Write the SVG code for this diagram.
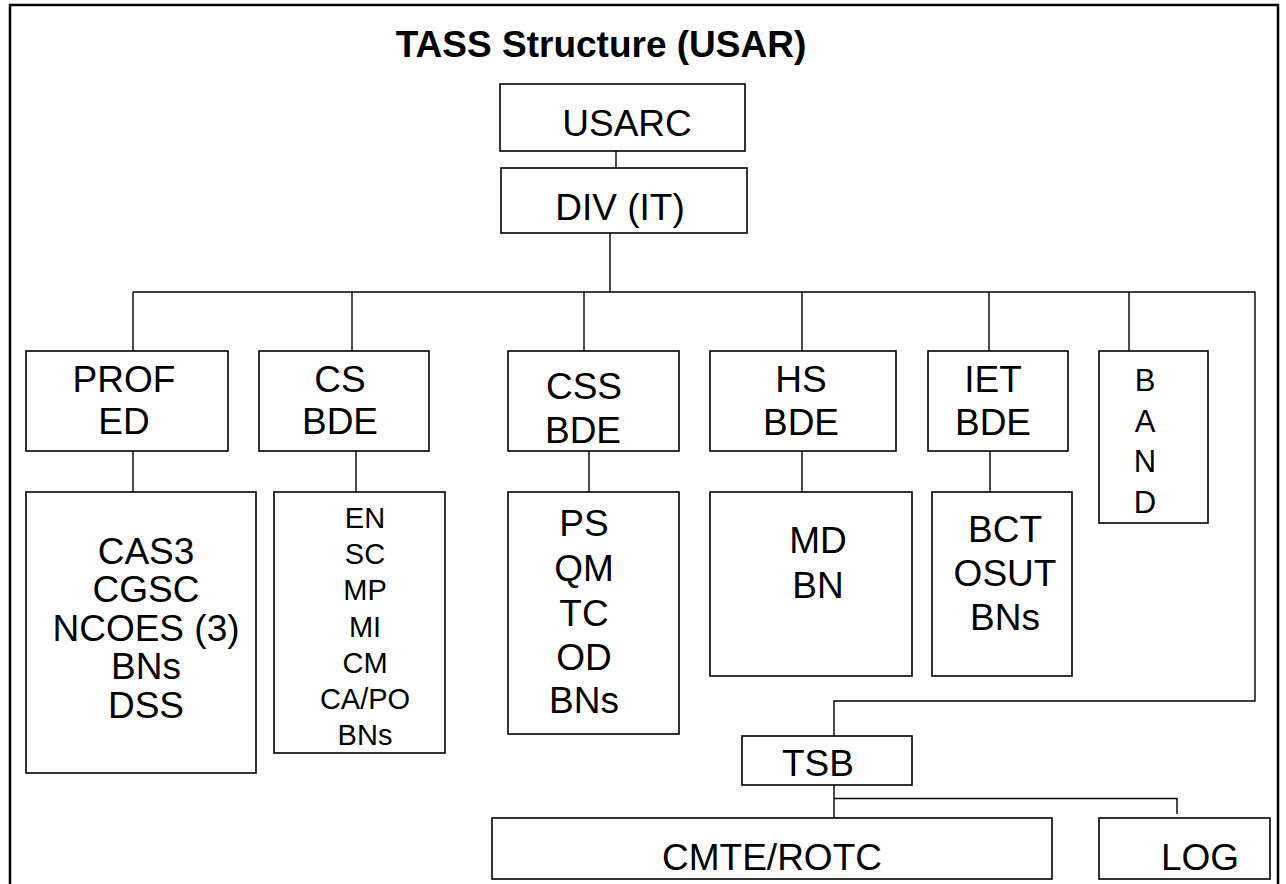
<svg xmlns="http://www.w3.org/2000/svg" width="1286" height="884" viewBox="0 0 1286 884">
<style>
.frame{fill:none;stroke:#000;stroke-width:2.5}
.box{fill:#fff;stroke:#000;stroke-width:1.6}
.conn{fill:none;stroke:#000;stroke-width:1.4}
text{font-family:"Liberation Sans",Arial,sans-serif;fill:#000;text-anchor:middle}
.t{font-size:37px}
.s{font-size:29px}
.b{font-size:31px}
.title{font-size:37px;font-weight:bold}
</style>
<rect width="1286" height="884" fill="#fff"/>
<path class="frame" d="M10,884 V5 H1278 V884"/>
<text class="title" x="601" y="57">TASS Structure (USAR)</text>
<g id="connectors">
<path class="conn" d="M616,151 V168"/>
<path class="conn" d="M610,233 V292"/>
<path class="conn" d="M133,292 H1255 V701 H834 V736"/>
<path class="conn" d="M133,292 V351"/>
<path class="conn" d="M352,292 V351"/>
<path class="conn" d="M584,292 V351"/>
<path class="conn" d="M802,292 V351"/>
<path class="conn" d="M989,292 V351"/>
<path class="conn" d="M1129,292 V351"/>
<path class="conn" d="M133,451 V492"/>
<path class="conn" d="M356,451 V492"/>
<path class="conn" d="M589,451 V492"/>
<path class="conn" d="M802,451 V492"/>
<path class="conn" d="M990,451 V492"/>
<path class="conn" d="M834,785 V818"/>
<path class="conn" d="M834,798.5 H1177 V814"/>
</g>
<g id="usarc"><rect class="box" x="500" y="84" width="245" height="67"/><text class="t" x="627" y="136">USARC</text></g>
<g id="div"><rect class="box" x="501" y="168" width="246" height="65"/><text class="t" x="620" y="220">DIV (IT)</text></g>
<g id="profed"><rect class="box" x="26" y="351" width="202" height="100"/><text class="t" x="124" y="392">PROF</text><text class="t" x="124" y="434">ED</text></g>
<g id="csbde"><rect class="box" x="259" y="351" width="170" height="100"/><text class="t" x="340" y="392">CS</text><text class="t" x="340" y="434">BDE</text></g>
<g id="cssbde"><rect class="box" x="508" y="351" width="171" height="100"/><text class="t" x="584" y="399">CSS</text><text class="t" x="583" y="443">BDE</text></g>
<g id="hsbde"><rect class="box" x="710" y="351" width="186" height="100"/><text class="t" x="801" y="392">HS</text><text class="t" x="801" y="435">BDE</text></g>
<g id="ietbde"><rect class="box" x="928" y="351" width="140" height="100"/><text class="t" x="993" y="392">IET</text><text class="t" x="993" y="435">BDE</text></g>
<g id="band"><rect class="box" x="1099" y="351" width="109" height="172"/><text class="b" x="1145" y="391">B</text><text class="b" x="1145" y="432">A</text><text class="b" x="1145" y="472">N</text><text class="b" x="1145" y="513">D</text></g>
<g id="profed-units"><rect class="box" x="26" y="492" width="230" height="281"/><text class="t" x="146" y="564">CAS3</text><text class="t" x="146" y="602">CGSC</text><text class="t" x="146" y="641">NCOES (3)</text><text class="t" x="146" y="679">BNs</text><text class="t" x="146" y="718">DSS</text></g>
<g id="cs-units"><rect class="box" x="274" y="492" width="171" height="261"/><text class="s" x="365" y="527.5">EN</text><text class="s" x="365" y="564">SC</text><text class="s" x="365" y="600">MP</text><text class="s" x="365" y="636.5">MI</text><text class="s" x="365" y="673">CM</text><text class="s" x="365" y="709">CA/PO</text><text class="s" x="365" y="745">BNs</text></g>
<g id="css-units"><rect class="box" x="508" y="492" width="171" height="242"/><text class="t" x="584" y="536">PS</text><text class="t" x="584" y="581">QM</text><text class="t" x="584" y="626">TC</text><text class="t" x="584" y="670">OD</text><text class="t" x="584" y="713">BNs</text></g>
<g id="hs-units"><rect class="box" x="710" y="492" width="202" height="184"/><text class="t" x="818" y="553">MD</text><text class="t" x="818" y="598">BN</text></g>
<g id="iet-units"><rect class="box" x="932" y="492" width="140" height="184"/><text class="t" x="1005" y="542">BCT</text><text class="t" x="1005" y="586">OSUT</text><text class="t" x="1005" y="630">BNs</text></g>
<g id="tsb"><rect class="box" x="742" y="736" width="170" height="49"/><text class="t" x="818" y="776">TSB</text></g>
<g id="cmte"><rect class="box" x="492" y="818" width="560" height="61"/><text class="t" x="772" y="870">CMTE/ROTC</text></g>
<g id="log"><rect class="box" x="1099" y="818" width="171" height="61"/><text class="t" x="1200" y="870">LOG</text></g>
</svg>
